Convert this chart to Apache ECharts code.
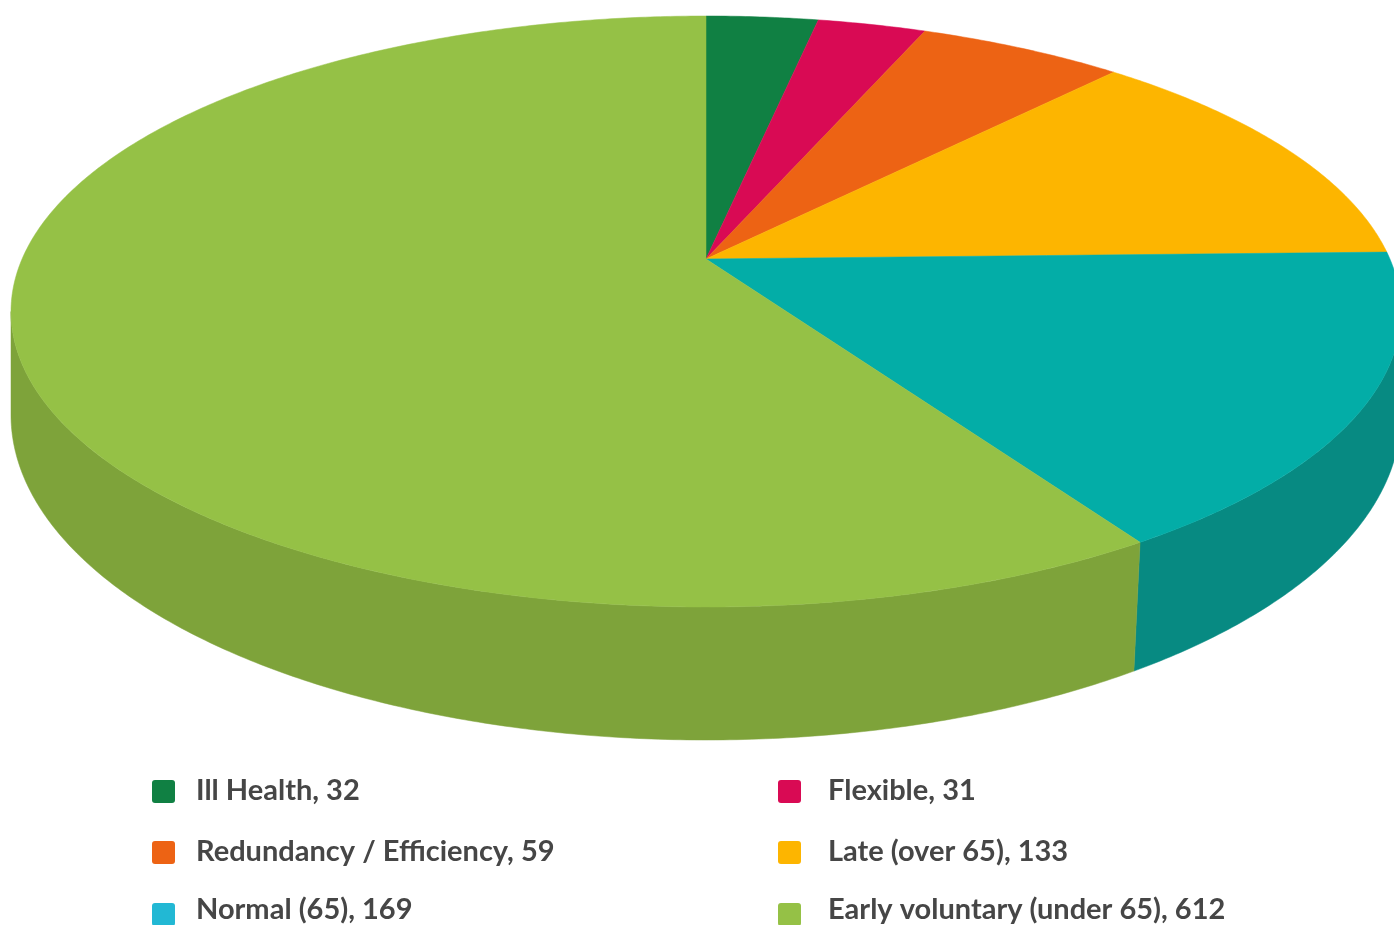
<!DOCTYPE html>
<html>
<head>
<meta charset="utf-8">
<style>html,body{margin:0;padding:0;background:#fff;overflow:hidden}#c{width:1394px;height:925px}</style>
<script src="https://cdn.jsdelivr.net/npm/echarts@6/dist/echarts.min.js"></script>
</head>
<body>
<div id="c"></div>
<script>
const categories = ['Ill Health', 'Flexible', 'Redundancy / Efficiency', 'Late (over 65)', 'Normal (65)', 'Early voluntary (under 65)'];
const values = [32, 31, 59, 133, 169, 612];
const topColors = ['#108043', '#D90A54', '#ED6314', '#FDB500', '#03ADA7', '#95C146'];
const sideColors = ['#0D6836', '#AD0843', '#BE4F10', '#CA9100', '#078A82', '#7EA33A'];
const legendColors = ['#108043', '#D90A54', '#ED6314', '#FDB500', '#22B8D4', '#95C146'];

const topRing = { cx: 706, top: 16, bottom: 607, rx: 695, c: 0.1777 };
const baseRing = { cx: 706, top: 90, bottom: 740, rx: 695, c: 0.16 };
const legendSlots = [
  [152, 777], [778, 777], [152, 838], [778, 838], [152, 900], [778, 900]
];
const legendSpacerLine = [1, 1, 1, 1, 9, 9];

function project(ring, angle) {
  const X = Math.sin(angle), Y = Math.cos(angle), c = ring.c;
  const d = ring.rx * Math.sqrt(1 - c * c);
  const b = (ring.top * (1 + c) + ring.bottom * (1 - c)) / 2;
  const a = ring.top * (1 + c) - b;
  const w = 1 + c * Y;
  return [ring.cx + d * X / w, (a * Y + b) / w];
}
function arc(ring, from, to) {
  const n = Math.max(2, Math.ceil((to - from) / (Math.PI / 360)));
  const pts = [];
  for (let i = 0; i <= n; i++) pts.push(project(ring, from + (to - from) * i / n));
  return pts;
}
function apex(ring) {
  const c = ring.c;
  return [ring.cx, (ring.top * (1 + c) + ring.bottom * (1 - c)) / 2];
}
// Part of an angular range that faces the viewer on this ring: between its two silhouette angles.
function frontArc(ring, a0, a1) {
  const right = Math.acos(-ring.c);
  const left = Math.PI * 2 - right;
  const from = Math.max(a0, right), to = Math.min(a1, left);
  return from < to ? arc(ring, from, to) : null;
}

const total = values.reduce((s, v) => s + v, 0);
let running = 0;
const series = categories.map((name, i) => {
  const from = running / total * Math.PI * 2;
  running += values[i];
  const to = running / total * Math.PI * 2;
  return {
    type: 'custom',
    name,
    coordinateSystem: 'none',
    silent: true,
    animation: false,
    itemStyle: { color: topColors[i] },
    data: [[from, to]],
    renderItem: function (params, api) {
      const a0 = api.value(0), a1 = api.value(1);
      const children = [];
      const topFront = frontArc(topRing, a0, a1);
      const baseFront = frontArc(baseRing, a0, a1);
      if (topFront && baseFront) {
        children.push({
          type: 'polygon', z2: 1,
          shape: { points: topFront.concat(baseFront.reverse()) },
          style: { fill: sideColors[i], stroke: sideColors[i], lineWidth: 0.5 }
        });
      }
      children.push({
        type: 'polygon', z2: 10,
        shape: { points: [apex(topRing)].concat(arc(topRing, a0, a1)) },
        style: { fill: topColors[i], stroke: topColors[i], lineWidth: 0.5 }
      });
      return { type: 'group', children };
    }
  };
});

const swatch = 'path://M3 0H20A3 3 0 0 1 23 3V20A3 3 0 0 1 20 23H3A3 3 0 0 1 0 20V3A3 3 0 0 1 3 0Z';
const legends = categories.map((name, i) => ({
  left: legendSlots[i][0],
  top: legendSlots[i][1] - legendSpacerLine[i] / 2,
  padding: 0,
  itemWidth: 23,
  itemHeight: 23,
  selectedMode: false,
  data: [{ name, icon: swatch, itemStyle: { color: legendColors[i] } }],
  formatter: n => '{t|' + n + ', ' + values[categories.indexOf(n)] + '}\n{s| }',
  textStyle: {
    rich: {
      t: {
        fontFamily: 'Lato',
        fontWeight: 700,
        fontSize: 29,
        lineHeight: 23,
        color: '#464646',
        padding: [0, 0, 0, i % 2 ? 22 : 16]
      },
      s: { fontSize: 1, lineHeight: legendSpacerLine[i] }
    }
  }
}));

const chart = echarts.init(document.getElementById('c'), null, { renderer: 'canvas' });
chart.setOption({ animation: false, backgroundColor: '#fff', legend: legends, series });
</script>
</body>
</html>
